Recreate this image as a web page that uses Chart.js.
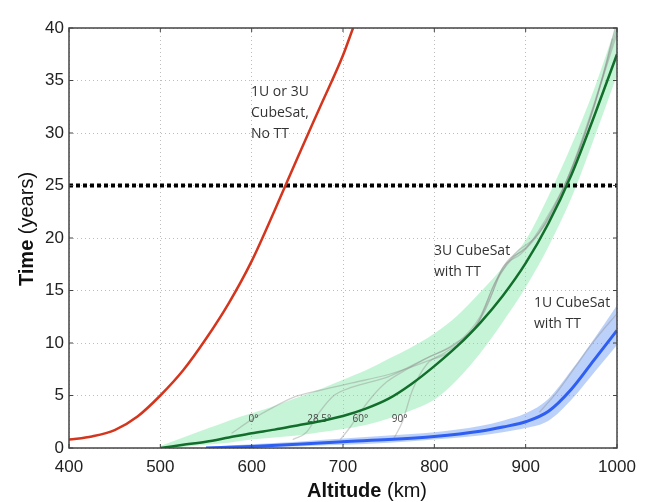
<!DOCTYPE html>
<html>
<head>
<meta charset="utf-8">
<script src="https://cdn.jsdelivr.net/npm/chart.js@4"></script>
<style>
  html, body { margin: 0; padding: 0; background: #fff; }
  #wrap { width: 652px; height: 502px; }
</style>
</head>
<body>
<div id="wrap"><canvas id="lifetimePlot"></canvas></div>
<script>
// Orbital lifetime vs altitude

// No TT (1U or 3U)
const altNoTT = [400, 425, 450, 475, 500, 525, 550, 575, 600, 625, 650, 675, 700, 711];
const timeNoTT = [0.8, 1.1, 1.7, 3.0, 5.0, 7.4, 10.4, 13.8, 17.8, 22.6, 27.6, 32.5, 37.4, 40.0];

// 3U with TT: mean and spread
const alt3U = [500, 525, 550, 575, 600, 625, 650, 675, 700, 725, 750, 775, 800, 825, 850, 875, 900, 925, 950, 975, 1000];
const time3U = [0, 0.3, 0.6, 1.0, 1.4, 1.75, 2.15, 2.55, 3.05, 3.75, 4.7, 6.1, 7.8, 9.7, 11.9, 14.5, 17.6, 21.4, 26.0, 31.6, 37.5];
const high3U = [0.2, 1.0, 1.8, 2.6, 3.3, 4.0, 4.8, 5.6, 6.5, 7.4, 8.5, 9.6, 10.9, 12.6, 14.8, 17.2, 19.8, 24.0, 28.8, 34.2, 40.5];
const low3U = [0, 0.1, 0.3, 0.5, 0.8, 1.0, 1.2, 1.5, 1.8, 2.2, 2.8, 3.6, 4.6, 6.5, 9.0, 12.0, 15.3, 19.2, 23.8, 29.5, 35.5];

// 1U with TT: mean and spread
const alt1U = [550, 600, 650, 700, 750, 800, 850, 875, 900, 925, 950, 975, 1000];
const time1U = [0, 0.15, 0.35, 0.6, 0.8, 1.1, 1.6, 2.0, 2.5, 3.5, 5.6, 8.4, 11.2];
const high1U = [0.1, 0.35, 0.6, 0.9, 1.2, 1.5, 2.1, 2.6, 3.3, 4.7, 7.4, 10.4, 13.6];
const low1U = [0, 0.05, 0.15, 0.3, 0.5, 0.8, 1.2, 1.5, 1.9, 2.6, 4.6, 7.2, 9.8];

// single inclination runs (3U), [altitude, years]
const inc0 = [[578, 1.4], [600, 2.7], [620, 3.7], [645, 4.8], [675, 5.5], [710, 6.2], [750, 7.0], [790, 8.2], [820, 9.3], [845, 11.5], [862, 14.5], [875, 17.2], [895, 18.5], [915, 20.5], [940, 24.5], [965, 30], [985, 35.5], [998, 40]];
const inc28 = [[645, 0.8], [660, 1.5], [675, 3.5], [690, 5.0], [710, 5.8], [750, 6.8], [790, 8.5], [820, 9.8], [848, 12], [865, 15.5], [880, 17.8], [900, 19], [920, 21.5], [945, 25.5], [970, 31.5], [990, 37], [1000, 40]];
const inc60 = [[697, 0.8], [708, 2.0], [718, 3.3], [733, 5.0], [748, 6.3], [770, 7.5], [795, 8.7], [825, 10], [850, 12.5], [868, 16], [885, 18], [905, 19.5], [925, 22], [950, 26.5], [975, 32.5], [995, 39]];
const inc90 = [[755, 0.8], [765, 2.5], [776, 5.5], [792, 8.0], [810, 9.0], [835, 10.5], [855, 13], [872, 16.5], [888, 18.5], [910, 20], [930, 22.5], [955, 27.5], [980, 34], [1000, 39.5]];
const inc1U = [[915, 3.4], [935, 5.4], [955, 7.8], [975, 10.2], [1000, 12.8]];

const limitYears = 25;
const altTicks = [400, 500, 600, 700, 800, 900, 1000];
const yearTicks = [0, 5, 10, 15, 20, 25, 30, 35, 40];

const angleLabels = ['0°', '28.5°', '60°', '90°'];
const angleAlts = [602, 674, 719, 762];
const angleY = 2.7;

function pts(xs, ys) { return xs.map((x, i) => ({ x: x, y: ys[i] })); }
function pairs(a) { return a.map(p => ({ x: p[0], y: p[1] })); }

const grayRun = (arr) => ({
    data: pairs(arr), borderColor: 'rgba(140,140,140,0.4)', borderWidth: 1.3,
    pointRadius: 0, cubicInterpolationMode: 'monotone', fill: false, order: 2
});

// frame, inner ticks, axis titles, annotations
const decor = {
    id: 'decor',
    afterDatasetsDraw(chart) {
        const { ctx, chartArea: a, scales: { x, y } } = chart;
        ctx.save();
        ctx.strokeStyle = '#444';
        ctx.lineWidth = 1.5;
        ctx.strokeRect(a.left, a.top, a.right - a.left, a.bottom - a.top);
        ctx.lineWidth = 1;
        altTicks.forEach(v => {
            const px = x.getPixelForValue(v);
            ctx.beginPath();
            ctx.moveTo(px, a.bottom); ctx.lineTo(px, a.bottom - 4);
            ctx.moveTo(px, a.top); ctx.lineTo(px, a.top + 4);
            ctx.stroke();
        });
        yearTicks.forEach(v => {
            const py = y.getPixelForValue(v);
            ctx.beginPath();
            ctx.moveTo(a.left, py); ctx.lineTo(a.left + 4, py);
            ctx.moveTo(a.right, py); ctx.lineTo(a.right - 4, py);
            ctx.stroke();
        });

        // axis titles, bold + normal parts
        ctx.fillStyle = '#111';
        ctx.textBaseline = 'middle';
        const title = (bold, rest, cx, cy, rot) => {
            ctx.save();
            ctx.translate(cx, cy);
            ctx.rotate(rot);
            ctx.font = 'bold 20px "Liberation Sans"';
            const w1 = ctx.measureText(bold).width;
            ctx.font = '20px "Liberation Sans"';
            const w2 = ctx.measureText(rest).width;
            const start = -(w1 + w2) / 2;
            ctx.textAlign = 'left';
            ctx.font = 'bold 20px "Liberation Sans"';
            ctx.fillText(bold, start, 0);
            ctx.font = '20px "Liberation Sans"';
            ctx.fillText(rest, start + w1, 0);
            ctx.restore();
        };
        title('Altitude', ' (km)', 367, 491, 0);
        title('Time', ' (years)', 27, 229, -Math.PI / 2);

        // curve labels
        ctx.fillStyle = '#333';
        ctx.textAlign = 'left';
        ctx.font = '14px "Open Sans"';
        ['1U or 3U', 'CubeSat,', 'No TT'].forEach((t, i) => ctx.fillText(t, 251, 92 + i * 21));
        ['3U CubeSat', 'with TT'].forEach((t, i) => ctx.fillText(t, 434, 251 + i * 21));
        ['1U CubeSat', 'with TT'].forEach((t, i) => ctx.fillText(t, 534, 303 + i * 21));

        ctx.font = '10px "Open Sans"';
        ctx.textAlign = 'center';
        ctx.fillStyle = '#444';
        angleLabels.forEach((t, i) => {
            ctx.fillText(t, x.getPixelForValue(angleAlts[i]), y.getPixelForValue(angleY));
        });
        ctx.restore();
    }
};

Chart.defaults.font.family = '"Liberation Sans", Arial, sans-serif';

const ctx = document.getElementById('lifetimePlot').getContext('2d');
const lifetimePlot = new Chart(ctx, {
    type: 'line',
    data: {
        datasets: [
            // 0: no TT
            { data: pts(altNoTT, timeNoTT), borderColor: '#d4351c', borderWidth: 2.5, pointRadius: 0,
              cubicInterpolationMode: 'monotone', fill: false, order: 0 },
            // 1: 3U mean
            { data: pts(alt3U, time3U), borderColor: '#126e2b', borderWidth: 2.5, pointRadius: 0,
              cubicInterpolationMode: 'monotone', fill: false, order: 0 },
            // 2: 1U mean
            { data: pts(alt1U, time1U), borderColor: '#2f5ff2', borderWidth: 3, pointRadius: 0,
              cubicInterpolationMode: 'monotone', fill: false, order: 0 },
            // 3: 25 year line
            { data: [{ x: 400, y: limitYears }, { x: 1000, y: limitYears }], borderColor: '#000',
              borderWidth: 4, borderDash: [4, 3], borderCapStyle: 'butt', pointRadius: 0, fill: false, order: 1 },
            grayRun(inc0), grayRun(inc28), grayRun(inc60), grayRun(inc90), grayRun(inc1U),
            // 9, 10: 3U band
            { data: pts(alt3U, high3U), borderWidth: 0, pointRadius: 0, cubicInterpolationMode: 'monotone',
              backgroundColor: 'rgba(120,228,160,0.42)', fill: 10, order: 3 },
            { data: pts(alt3U, low3U), borderWidth: 0, pointRadius: 0, cubicInterpolationMode: 'monotone',
              fill: false, order: 3 },
            // 11, 12: 1U band
            { data: pts(alt1U, high1U), borderWidth: 0, pointRadius: 0, cubicInterpolationMode: 'monotone',
              backgroundColor: 'rgba(95,145,240,0.42)', fill: 12, order: 3 },
            { data: pts(alt1U, low1U), borderWidth: 0, pointRadius: 0, cubicInterpolationMode: 'monotone',
              fill: false, order: 3 }
        ]
    },
    options: {
        responsive: true,
        maintainAspectRatio: false,
        animation: false,
        layout: { padding: { top: 28, right: 35, left: 0, bottom: 0 } },
        scales: {
            x: {
                type: 'linear', min: 400, max: 1000,
                afterFit: (s) => { s.height = 54; },
                afterBuildTicks: (s) => { s.ticks = altTicks.map(v => ({ value: v })); },
                ticks: { color: '#222', font: { size: 17 }, padding: 9, maxRotation: 0,
                         callback: (v) => String(v) },
                grid: { color: '#bdbdbd', drawTicks: false, lineWidth: 1 },
                border: { display: false, dash: [1, 3] }
            },
            y: {
                min: 0, max: 40,
                afterFit: (s) => { s.width = 69; },
                afterBuildTicks: (s) => { s.ticks = yearTicks.map(v => ({ value: v })); },
                ticks: { color: '#222', font: { size: 17 }, padding: 5, callback: (v) => String(v) },
                grid: { color: '#bdbdbd', drawTicks: false, lineWidth: 1 },
                border: { display: false, dash: [1, 3] }
            }
        },
        plugins: {
            legend: { display: false },
            tooltip: { enabled: false }
        }
    },
    plugins: [decor]
});
</script>
</body>
</html>
